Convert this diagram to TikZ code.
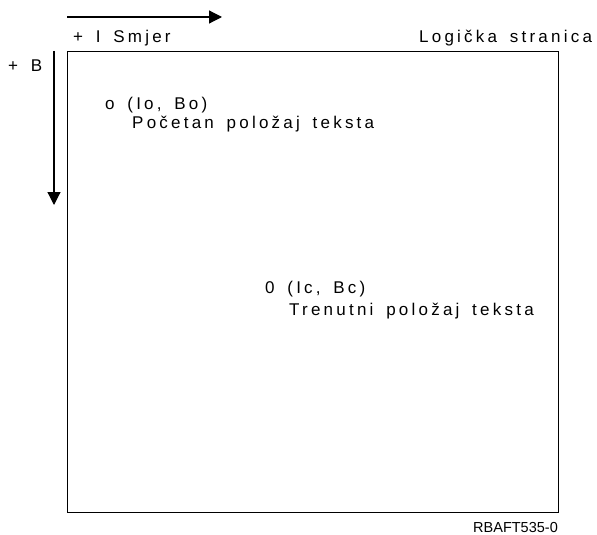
\documentclass[tikz,border=0pt]{standalone}
\usepackage{fontspec}
\setmainfont{Liberation Sans}
\newfontfamily\spaced[LetterSpace=19,WordSpace=1.6]{Liberation Sans}
\usetikzlibrary{arrows.meta}
\begin{document}
\begin{tikzpicture}[x=1pt,y=-1pt,
  label/.style={inner sep=0pt,anchor=base west,font=\spaced\fontsize{17pt}{20pt}\selectfont},
  figid/.style={inner sep=0pt,anchor=base west,font=\fontsize{14.5pt}{17pt}\selectfont},
  axis/.style={line width=1.2pt,-{Triangle[length=13pt,width=13pt]}},
  pagebox/.style={draw,line width=1.4pt,inner sep=0pt,minimum width=491pt,minimum height=461pt,anchor=north west}]
\useasboundingbox (0,0) rectangle (597,535);
% logical page
\node[pagebox] (page) at (67,51) {};
% direction axes
\coordinate (iStart) at (67,17);
\coordinate (iEnd) at (222,17);
\coordinate (bStart) at (54,51);
\coordinate (bEnd) at (54,205);
\draw[axis] (iStart) -- (iEnd);
\draw[axis] (bStart) -- (bEnd);
% labels
\node[label] (ilbl) at (73,43) {+ I Smjer};
\node[label] (title) at (419,43) {Logička stranica};
\node[label] (blbl) at (8,71) {+ B};
\node[label] (origin) at (105,110) {o (Io, Bo)};
\node[label] (origintxt) at (132,128) {Početan položaj teksta};
\node[label] (curr) at (265,293) {0 (Ic, Bc)};
\node[label] (currtxt) at (289,315) {Trenutni položaj teksta};
\node[figid] (fig) at (473,532) {RBAFT535-0};
\end{tikzpicture}
\end{document}
